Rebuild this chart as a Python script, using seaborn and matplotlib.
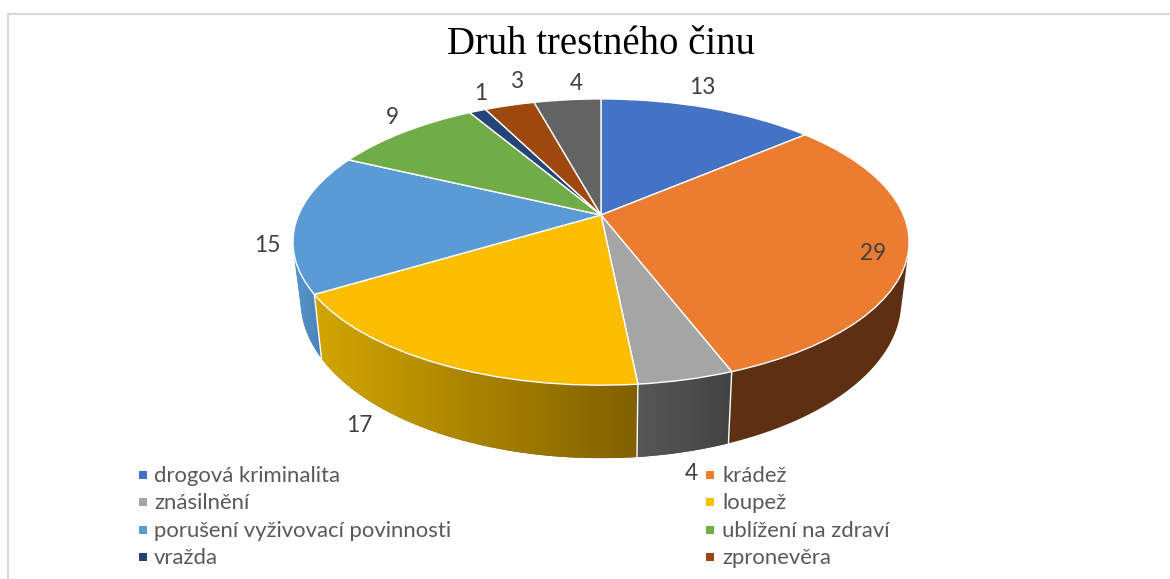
import numpy as np
import matplotlib
matplotlib.use("Agg")
import matplotlib.pyplot as plt
from matplotlib.patches import Polygon
from matplotlib.transforms import Transform
import seaborn as sns

# ---- data ----
categories = ["drogová kriminalita", "krádež", "znásilnění", "loupež",
              "porušení vyživovací povinnosti", "ublížení na zdraví",
              "vražda", "zpronevěra"]
values = [13, 29, 4, 17, 15, 9, 1, 3, 4]
title = "Druh trestného činu"

# ---- style ----
top_colors = ["#4472C4", "#EC7C30", "#A5A5A5", "#FBBE00", "#5B9BD5",
              "#70AD47", "#264478", "#9E480E", "#636363"]
# side-wall shading: colour at the wall's right end and at its left end
side_right = ["#2F5597", "#5E3013", "#434343", "#806000", "#4A82B5",
              "#4E7A31", "#1A2F55", "#6E3209", "#454545"]
side_left = ["#2F5597", "#5E3013", "#575757", "#D2A600", "#5996CE",
             "#4E7A31", "#1A2F55", "#6E3209", "#454545"]
label_xy = [(702, 87), (873, 253), (691, 473), (359, 425), (267, 246),
            (392, 117), (481, 93), (517, 82), (576, 84)]

CX, CY = 601.0, 215.0
A, B, K = 138.0, 302.5, 0.189

sns.set_theme(style="white")
plt.rcParams["font.family"] = ["Lato", "DejaVu Sans"]

palette = sns.color_palette(top_colors)


def project(x, y):
    d = 1 + K * y
    return B * x / d, A * y / d


class TopFace(Transform):
    input_dims = 2
    output_dims = 2

    def transform_non_affine(self, values):
        v = np.asarray(values, dtype=float)
        px, py = project(v[:, 0], v[:, 1])
        return np.column_stack([CX + px, CY - py])


fig = plt.figure(figsize=(11.7, 5.79), dpi=100, facecolor="white")
ax = fig.add_axes([0, 0, 1, 1])

wedges, _ = ax.pie(values, colors=palette, startangle=90, counterclock=False,
                   wedgeprops=dict(edgecolor="white", linewidth=1.0))
ax.set_aspect("auto")
ax.set_xlim(0, 1170)
ax.set_ylim(579, 0)
ax.set_axis_off()

top_tf = TopFace() + ax.transData
for w in wedges:
    w.set_transform(top_tf)
    w.set_clip_on(False)
    w.set_zorder(5)


def rims(theta):
    """Top and bottom rim points for a pie angle (arrays)."""
    x, y = np.sin(theta), np.cos(theta)
    px, py = project(x, y)
    return (CX + px, CY - py), (CX + 0.975 * px, CY - 1.1 * py + 56)


cum = np.cumsum([0] + values) / np.sum(values) * 2 * np.pi
for i in range(len(values)):
    ts = np.linspace(cum[i], cum[i + 1], 400)
    (tx, ty), (bx, by) = rims(ts)
    # keep the part of the wall that faces the viewer
    dx, dy = np.gradient(tx), np.gradient(ty)
    keep = dx * (by - ty) - dy * (bx - tx) < 0
    if keep.sum() < 2:
        continue
    tx, ty, bx, by = tx[keep], ty[keep], bx[keep], by[keep]
    px = np.r_[tx, bx[::-1]]
    py = np.r_[ty, by[::-1]]
    wall = Polygon(np.column_stack([px, py]), closed=True, facecolor=side_right[i],
                   edgecolor="none", zorder=2)
    ax.add_patch(wall)
    if side_left[i] != side_right[i]:
        cmap = matplotlib.colors.LinearSegmentedColormap.from_list(
            "wall", [side_left[i], side_right[i]])
        im = ax.imshow(np.linspace(0, 1, 256)[None, :], cmap=cmap, aspect="auto",
                       extent=(px.min(), px.max(), py.max(), py.min()), zorder=3,
                       interpolation="bilinear")
        im.set_clip_path(wall)
    if 0.6 * np.pi < cum[i + 1] < 1.6 * np.pi:
        ax.plot([tx[-1], bx[-1]], [ty[-1], by[-1]], color="white", lw=1.0, zorder=4)
ax.set_xlim(0, 1170)
ax.set_ylim(579, 0)

for v, (lx, ly) in zip(values, label_xy):
    ax.text(lx, ly, str(v), ha="center", va="center", fontsize=16.3,
            color="#404040", zorder=6)

ax.text(CX, 45, title, ha="center", va="center", fontsize=27.9,
        family="Liberation Serif", color="black", zorder=6)

# legend
rows = [475, 502, 530, 557]
for k, name in enumerate(categories):
    left = k % 2 == 0
    mx = 143 if left else 709.5
    ry = rows[k // 2]
    ax.scatter([mx], [ry], marker="s", s=34, color=palette[k], linewidths=0, zorder=6)
    ax.text(mx + (11 if left else 13), ry + 1, name, ha="left", va="center",
            fontsize=15.9, color="#595959", zorder=6)

# frame
ax.plot([8, 8], [579, 14], color="#D9D9D9", lw=1.6, zorder=1, clip_on=False)
ax.plot([8, 1170], [14, 14], color="#D9D9D9", lw=1.6, zorder=1, clip_on=False)

fig.savefig("out.png", dpi=100)
